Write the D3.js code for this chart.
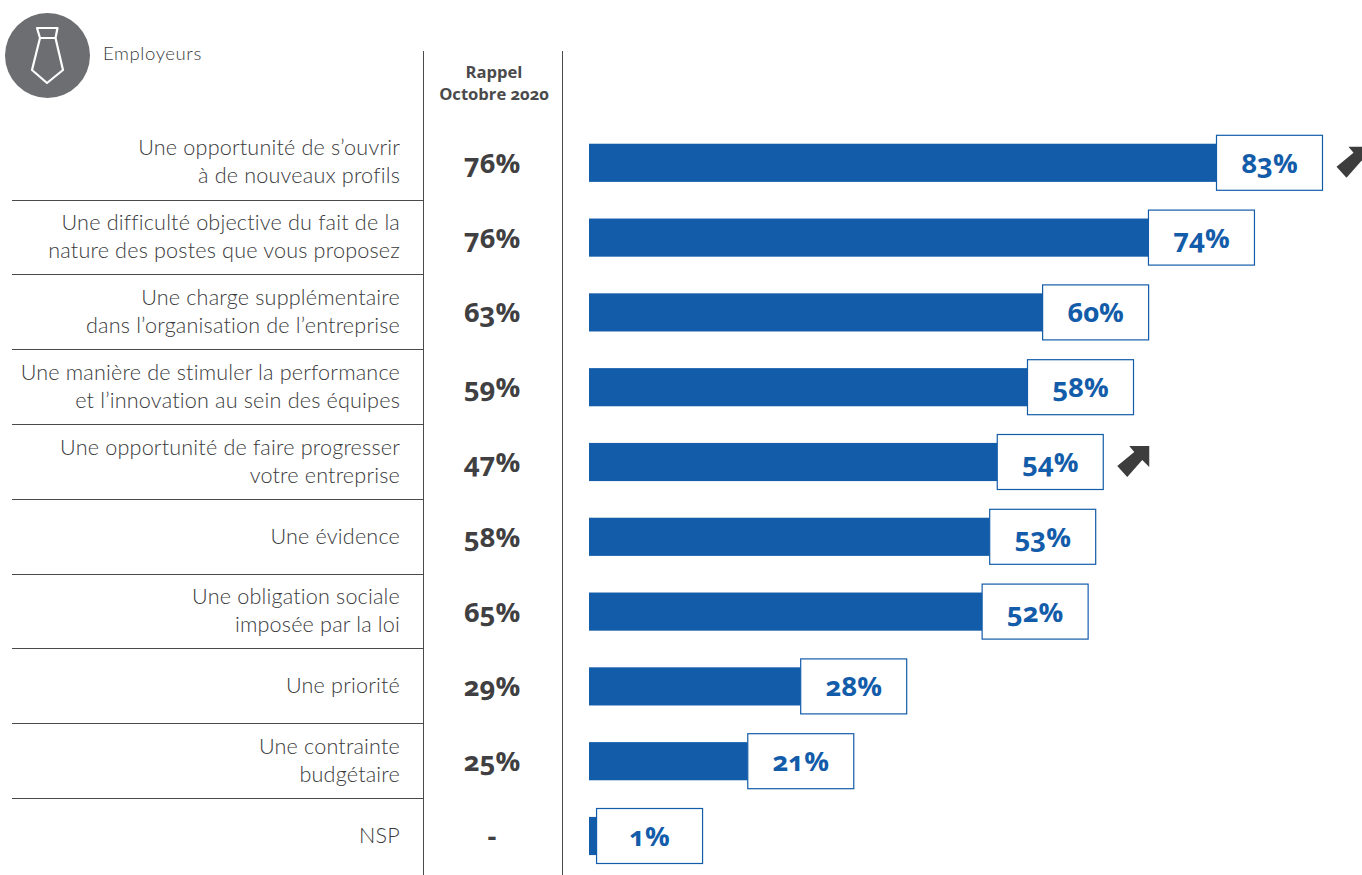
<!DOCTYPE html>
<html lang="fr">
<head>
<meta charset="utf-8">
<title>Employeurs</title>
<script src="https://cdnjs.cloudflare.com/ajax/libs/d3/7.8.5/d3.min.js"></script>
<style>
html,body{margin:0;padding:0;background:#fff}
svg{display:block}
text{font-family:Lato,"Open Sans",sans-serif}
.num{font-family:"Open Sans",Lato,sans-serif;font-feature-settings:"onum" 1;font-variant-numeric:oldstyle-nums}
</style>
</head>
<body>
<svg id="chart" width="1362" height="875"></svg>
<script>
// Réponses des employeurs, vague actuelle et rappel d'octobre 2020
const categories = [
  ["Une opportunité de s’ouvrir", "à de nouveaux profils"],
  ["Une difficulté objective du fait de la", "nature des postes que vous proposez"],
  ["Une charge supplémentaire", "dans l’organisation de l’entreprise"],
  ["Une manière de stimuler la performance", "et l’innovation au sein des équipes"],
  ["Une opportunité de faire progresser", "votre entreprise"],
  ["Une évidence"],
  ["Une obligation sociale", "imposée par la loi"],
  ["Une priorité"],
  ["Une contrainte", "budgétaire"],
  ["NSP"]
];
const currentValues = [83, 74, 60, 58, 54, 53, 52, 28, 21, 1];
const october2020 = ["76%", "76%", "63%", "59%", "47%", "58%", "65%", "29%", "25%", "-"];
const risingRows = [0, 4];
const recallHeader = ["Rappel", "Octobre 2020"];
const groupTitle = "Employeurs";

const BLUE = "#135ca9", INK = "#3a3a3c", RULE = "#4a4a4c";

const svg = d3.select("#chart");

const x = d3.scaleLinear().domain([0, 83]).range([589, 1216.5]);
const y = d3.scaleBand()
  .domain(d3.range(categories.length))
  .range([125.4, 873.4])
  .paddingInner(0.49)
  .paddingOuter(0.245);
const yCenter = i => y(i) + y.bandwidth() / 2;
const rowEdge = i => yCenter(i) + y.step() / 2 - 0.6;

// Filets verticaux de la colonne de rappel
svg.selectAll("line.col").data([423.5, 562.5]).join("line")
  .attr("class", "col")
  .attr("x1", d => d).attr("x2", d => d)
  .attr("y1", 51).attr("y2", 875)
  .attr("stroke", RULE).attr("stroke-width", 1);

// Séparateurs horizontaux entre les items
svg.selectAll("line.sep").data(d3.range(categories.length - 1)).join("line")
  .attr("class", "sep")
  .attr("x1", 12).attr("x2", 423)
  .attr("y1", i => Math.round(rowEdge(i)) + 0.5)
  .attr("y2", i => Math.round(rowEdge(i)) + 0.5)
  .attr("stroke", RULE).attr("stroke-width", 1);

// Pastille de l'en-tête avec la cravate
const badge = svg.append("g").attr("transform", "translate(47.5,55.5)");
badge.append("circle").attr("r", 42.5).attr("fill", "#6d6e71");
badge.append("path")
  .attr("d", "M-10.5,-27.5 L10,-27.5 L8,-17.5 L15.5,14.5 L-0.5,27.5 L-15.5,14.5 L-7.5,-17.5 Z M-7.5,-17.5 L8,-17.5")
  .attr("fill", "none").attr("stroke", "#fff").attr("stroke-width", 2.2).attr("stroke-linejoin", "round");

svg.append("text").text(groupTitle)
  .attr("x", 103).attr("y", 60)
  .attr("font-size", 18.5).attr("font-weight", 300).attr("letter-spacing", 0.6)
  .attr("fill", INK);

svg.selectAll("text.head").data(recallHeader).join("text")
  .attr("class", "head num")
  .text(d => d)
  .attr("x", 494).attr("y", (d, i) => 78 + i * 22)
  .attr("text-anchor", "middle")
  .attr("font-size", 16.6).attr("font-weight", 700)
  .attr("fill", "#4a4a4c");

// Libellés alignés à droite, sur une ou deux lignes
svg.selectAll("text.label").data(categories).join("text")
  .attr("class", "label")
  .attr("text-anchor", "end")
  .attr("font-size", 21.6).attr("font-weight", 300).attr("letter-spacing", 0.18)
  .attr("fill", INK)
  .each(function (lines, i) {
    const offset = lines.length === 1 ? 7 : -7.5;
    d3.select(this).selectAll("tspan").data(lines).join("tspan")
      .attr("x", 400)
      .attr("y", (d, j) => yCenter(i) + offset + j * 28)
      .text(d => d);
  });

// Colonne de rappel
svg.selectAll("text.recall").data(october2020).join("text")
  .attr("class", "recall num")
  .text(d => d)
  .attr("x", 492).attr("y", (d, i) => yCenter(i) + 10)
  .attr("text-anchor", "middle")
  .attr("font-size", 27.5).attr("font-weight", 700)
  .attr("fill", "#404042");

// Barres de la vague actuelle
svg.selectAll("rect.bar").data(currentValues).join("rect")
  .attr("class", "bar")
  .attr("x", x(0))
  .attr("y", (d, i) => y(i))
  .attr("width", d => x(d) - x(0))
  .attr("height", y.bandwidth())
  .attr("fill", BLUE);

// Étiquettes encadrées accolées au bout de chaque barre
const BOX_W = 106, BOX_H = 55;
svg.selectAll("rect.box").data(currentValues).join("rect")
  .attr("class", "box")
  .attr("x", d => x(d))
  .attr("y", (d, i) => yCenter(i) - BOX_H / 2)
  .attr("width", BOX_W).attr("height", BOX_H)
  .attr("fill", "#fff").attr("stroke", BLUE).attr("stroke-width", 1.2);

svg.selectAll("text.value").data(currentValues).join("text")
  .attr("class", "value num")
  .text(d => d + "%")
  .attr("x", d => x(d) + BOX_W / 2)
  .attr("y", (d, i) => yCenter(i) + 10)
  .attr("text-anchor", "middle")
  .attr("font-size", 27.5).attr("font-weight", 700)
  .attr("fill", BLUE);

// Flèches de hausse significative
svg.selectAll("path.arrow").data(risingRows).join("path")
  .attr("class", "arrow")
  .attr("d", "M-4,-15 L16,-15 L16,6 L9,-1 L-6,16 L-16,5 L1,-9 Z")
  .attr("transform", i => `translate(${x(currentValues[i]) + BOX_W + 30},${yCenter(i) - 1})`)
  .attr("fill", "#3d3d3d");
</script>
</body>
</html>
